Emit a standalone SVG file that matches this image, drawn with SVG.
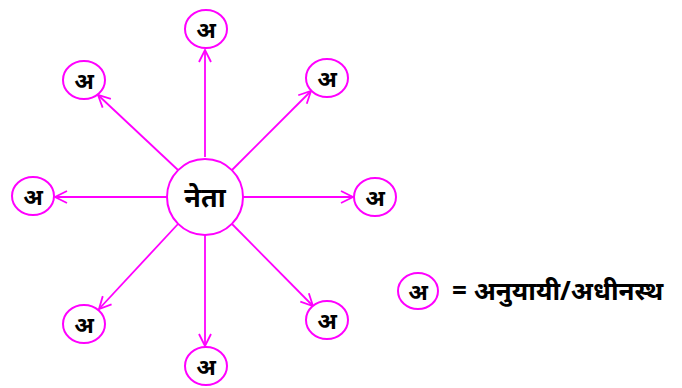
<svg xmlns="http://www.w3.org/2000/svg" width="682" height="388" viewBox="0 0 682 388">
<defs>
<style>
.c{fill:#fff;stroke:#f0f;stroke-width:2}
.t{font-family:"Noto Sans","Noto Sans Devanagari","DejaVu Sans",sans-serif;font-weight:bold;fill:#000;text-anchor:middle}
.a{stroke:#f0f;stroke-width:1.8;fill:none;marker-end:url(#ah)}
</style>
<marker id="ah" viewBox="0 0 14 14" refX="13" refY="7" markerWidth="14" markerHeight="14" markerUnits="userSpaceOnUse" orient="auto">
<path d="M1,1 L13,7 L1,13" fill="none" stroke="#f0f" stroke-width="1.8"/>
</marker>
</defs>
<rect width="682" height="388" fill="#fff"/>
<g id="connectors">
<line class="a" x1="205" y1="157" x2="205" y2="50"/>
<line class="a" x1="232" y1="170" x2="311" y2="91"/>
<line class="a" x1="243" y1="197" x2="353" y2="197"/>
<line class="a" x1="232" y1="224" x2="313" y2="306"/>
<line class="a" x1="205" y1="235" x2="205" y2="346"/>
<line class="a" x1="178" y1="224" x2="99" y2="309"/>
<line class="a" x1="167" y1="197" x2="55" y2="197"/>
<line class="a" x1="178" y1="170" x2="98" y2="95"/>
</g>
<g id="center"><circle class="c" cx="205" cy="197" r="38"/><text class="t" x="205" y="207" font-size="27">नेता</text></g>
<g id="n-top"><ellipse class="c" cx="206" cy="29" rx="21" ry="19"/><text class="t" x="206" y="38" font-size="23">अ</text></g>
<g id="n-topright"><ellipse class="c" cx="327" cy="78" rx="21" ry="19"/><text class="t" x="327" y="87" font-size="23">अ</text></g>
<g id="n-right"><ellipse class="c" cx="375" cy="197" rx="21" ry="19"/><text class="t" x="375" y="206" font-size="23">अ</text></g>
<g id="n-bottomright"><ellipse class="c" cx="327" cy="320" rx="21" ry="19"/><text class="t" x="327" y="329" font-size="23">अ</text></g>
<g id="n-bottom"><ellipse class="c" cx="206" cy="366" rx="21" ry="19"/><text class="t" x="206" y="375" font-size="23">अ</text></g>
<g id="n-bottomleft"><ellipse class="c" cx="84" cy="324" rx="21" ry="19"/><text class="t" x="84" y="333" font-size="23">अ</text></g>
<g id="n-left"><ellipse class="c" cx="33" cy="196" rx="21" ry="19"/><text class="t" x="33" y="205" font-size="23">अ</text></g>
<g id="n-topleft"><ellipse class="c" cx="84" cy="80" rx="21" ry="19"/><text class="t" x="84" y="89" font-size="23">अ</text></g>
<g id="legend"><ellipse class="c" cx="418" cy="291" rx="20" ry="18"/><text class="t" x="418" y="300" font-size="23">अ</text><text class="t" x="452" y="300" font-size="26" style="text-anchor:start">= अनुयायी/अधीनस्थ</text></g>
</svg>
